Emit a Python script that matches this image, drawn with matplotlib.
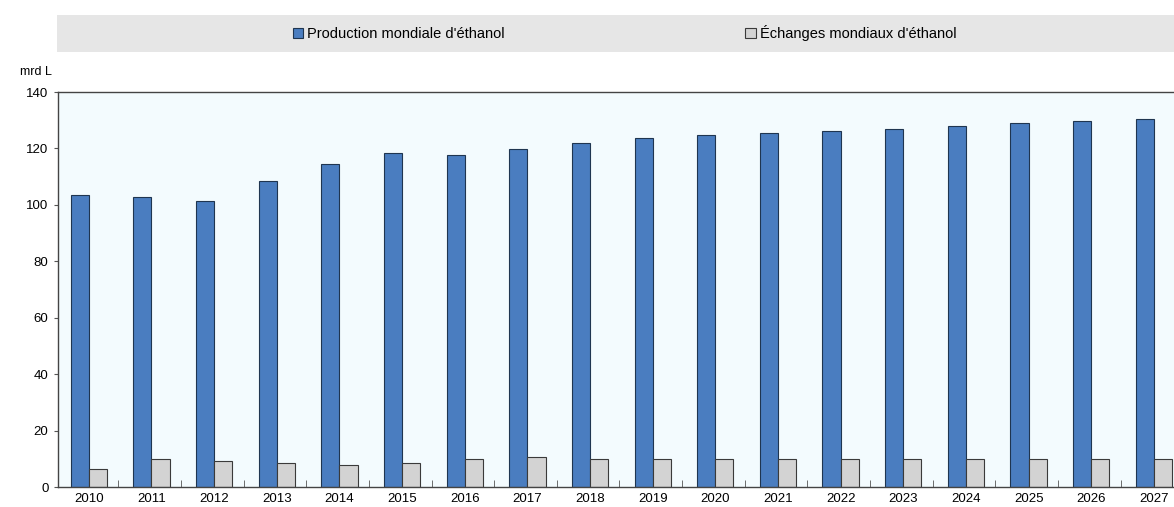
import matplotlib
matplotlib.use("Agg")
import matplotlib.pyplot as plt
from matplotlib.patches import Rectangle
import numpy as np

# data (mrd L)
years = ["2010", "2011", "2012", "2013", "2014", "2015", "2016", "2017", "2018",
         "2019", "2020", "2021", "2022", "2023", "2024", "2025", "2026", "2027"]
production = [103.4, 102.9, 101.5, 108.3, 114.5, 118.3, 117.8, 119.9, 122.0,
              123.6, 124.8, 125.5, 126.2, 126.9, 127.9, 128.9, 129.6, 130.3]
echanges = [6.4, 9.9, 9.3, 8.6, 7.8, 8.5, 9.8, 10.6, 9.8,
            9.9, 9.9, 9.9, 9.9, 9.9, 9.9, 9.9, 9.9, 9.9]
yticks = [0, 20, 40, 60, 80, 100, 120, 140]

plt.rcParams['font.family'] = ['Liberation Sans Narrow', 'Liberation Sans', 'DejaVu Sans']

W, H = 1174, 507
fig = plt.figure(figsize=(W / 100, H / 100), dpi=100)

# axes runs past the right edge, the original is cropped there
step = 62.65
ax = fig.add_axes([57.5 / W, 20 / H, 18 * step / W, 395 / H])
ax.set_facecolor("#f3fbfe")

x = np.arange(len(years))
bw = 0.29
ax.bar(x - bw / 2, production, bw, color="#4a7dc0", edgecolor="#1f3550",
       linewidth=0.8, label="Production mondiale d'éthanol")
ax.bar(x + bw / 2, echanges, bw, color="#d3d3d3", edgecolor="#3a3a3a",
       linewidth=0.8, label="Échanges mondiaux d'éthanol")

ax.set_xlim(-0.5, len(years) - 0.5)
ax.set_ylim(0, 140)
ax.set_yticks(yticks)
ax.set_xticks(x)
ax.set_xticklabels(years)
ax.set_xticks(x[:-1] + 0.47, minor=True)
ax.tick_params(axis="x", which="major", length=0, labelsize=9.5, pad=4)
ax.tick_params(axis="x", which="minor", length=5, direction="in", color="#555555")
ax.tick_params(axis="y", length=3, direction="out", labelsize=9.5, color="#555555")
for s in ["top", "left", "bottom"]:
    ax.spines[s].set_color("#444444")
    ax.spines[s].set_linewidth(1.0)
ax.spines["right"].set_visible(False)

fig.text(20 / W, 1 - 72 / H, "mrd L", fontsize=9, ha="left", va="center")

# grey legend band
fig.patches.append(Rectangle((57 / W, 1 - 52 / H), (W - 57) / W, 37 / H,
                             transform=fig.transFigure, facecolor="#e6e6e6",
                             edgecolor="none", zorder=0))
fig.legend(loc="center", bbox_to_anchor=(0.532, 1 - 33 / H), ncol=2, frameon=False,
           fontsize=10.5, handlelength=0.7, handleheight=0.7, handletextpad=0.3,
           columnspacing=16.5)

fig.savefig("out.png", dpi=100)
